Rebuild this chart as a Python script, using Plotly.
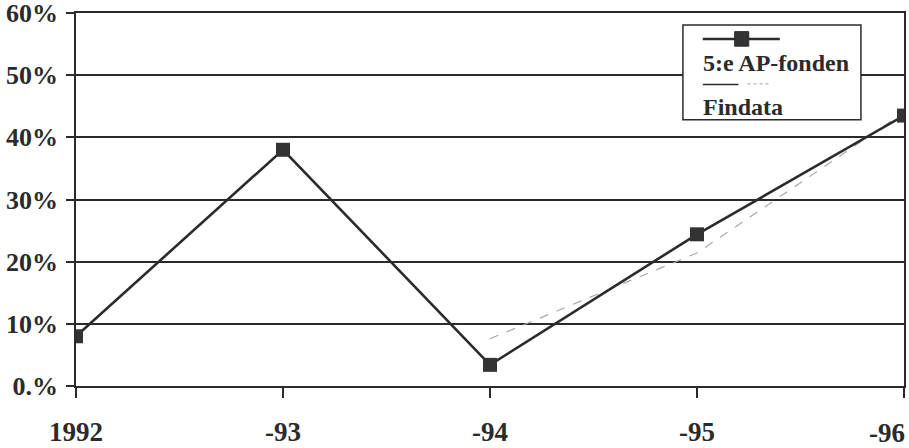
import plotly.graph_objects as go

years = ["1992", "-93", "-94", "-95", "-96"]
ap_fonden = [8.0, 38.0, 3.4, 24.4, 43.5]
findata = [None, None, 7.6, 21.4, 44.0]
y_ticks = [0, 10, 20, 30, 40, 50, 60]
y_labels = ["0.%", "10%", "20%", "30%", "40%", "50%", "60%"]

x_pos = list(range(len(years)))
ink = "#2b2b2b"
font = dict(family="Liberation Serif, Times New Roman, serif", size=27, color=ink)

fig = go.Figure()
fig.add_trace(go.Scatter(
    x=x_pos, y=findata, mode="lines", name="Findata",
    line=dict(color="#a8a8a8", width=1.2, dash="dash"),
))
fig.add_trace(go.Scatter(
    x=x_pos, y=ap_fonden, mode="lines+markers", name="5:e AP-fonden",
    line=dict(color=ink, width=2.6),
    marker=dict(symbol="square", size=14, color="#333333"),
))

# hand-drawn legend, text under each symbol
x0, x1, y0, y1 = 0.733, 0.948, 0.714, 0.968
fig.add_shape(type="rect", xref="paper", yref="paper", x0=x0, x1=x1, y0=y0, y1=y1,
              line=dict(color=ink, width=1.5), fillcolor="white", layer="above")
fig.add_shape(type="line", xref="paper", yref="paper", x0=0.757, x1=0.850, y0=0.930, y1=0.930,
              line=dict(color=ink, width=2.5), layer="above")
fig.add_shape(type="rect", xref="paper", yref="paper", x0=0.7955, x1=0.8125, y0=0.911, y1=0.950,
              line=dict(color=ink, width=1), fillcolor="#333333", layer="above")
fig.add_shape(type="line", xref="paper", yref="paper", x0=0.757, x1=0.800, y0=0.808, y1=0.808,
              line=dict(color=ink, width=1.5), layer="above")
fig.add_shape(type="line", xref="paper", yref="paper", x0=0.811, x1=0.838, y0=0.810, y1=0.810,
              line=dict(color="#a0a0a0", width=1, dash="dot"), layer="above")
fig.add_annotation(xref="paper", yref="paper", x=0.755, y=0.867, text="<b>5:e AP-fonden</b>",
                   showarrow=False, xanchor="left", yanchor="middle", font=dict(font, size=24))
fig.add_annotation(xref="paper", yref="paper", x=0.755, y=0.747, text="<b>Findata</b>",
                   showarrow=False, xanchor="left", yanchor="middle", font=dict(font, size=24))

# last year label sits inside the right edge, as in the original
tick_text = ["<b>%s</b>" % y for y in years[:-1]] + [""]
fig.add_annotation(x=x_pos[-1], y=0, xref="x", yref="y", text="<b>%s</b>" % years[-1],
                   showarrow=False, xanchor="right", yanchor="top", xshift=3, yshift=-30,
                   font=dict(font, size=27))

fig.update_layout(
    width=909, height=448,
    margin=dict(l=76, r=5, t=13, b=62),
    paper_bgcolor="white", plot_bgcolor="white",
    showlegend=False,
    font=font,
)
fig.update_xaxes(
    range=[0, 4], tickvals=x_pos, ticktext=tick_text,
    showgrid=False, showline=True, linecolor=ink, linewidth=1.5, mirror=True,
    ticks="outside", ticklen=10, tickcolor=ink, tickwidth=1.5,
    ticklabelstandoff=11, tickfont=dict(font, size=27), ticklabeloverflow="allow",
    automargin=False, zeroline=False,
)
fig.update_yaxes(
    range=[0, 60], tickvals=y_ticks, ticktext=["<b>%s</b>" % t for t in y_labels],
    showgrid=True, gridcolor=ink, gridwidth=1.5,
    showline=True, linecolor=ink, linewidth=1.5, mirror=True,
    ticks="outside", ticklen=8, tickcolor=ink, tickwidth=1.5,
    ticklabelstandoff=3, tickfont=dict(font, size=26), ticklabeloverflow="allow",
    automargin=False, zeroline=False,
)

fig.write_html("out.html", config={"displayModeBar": False},
               post_script="document.body.style.margin='0';")
